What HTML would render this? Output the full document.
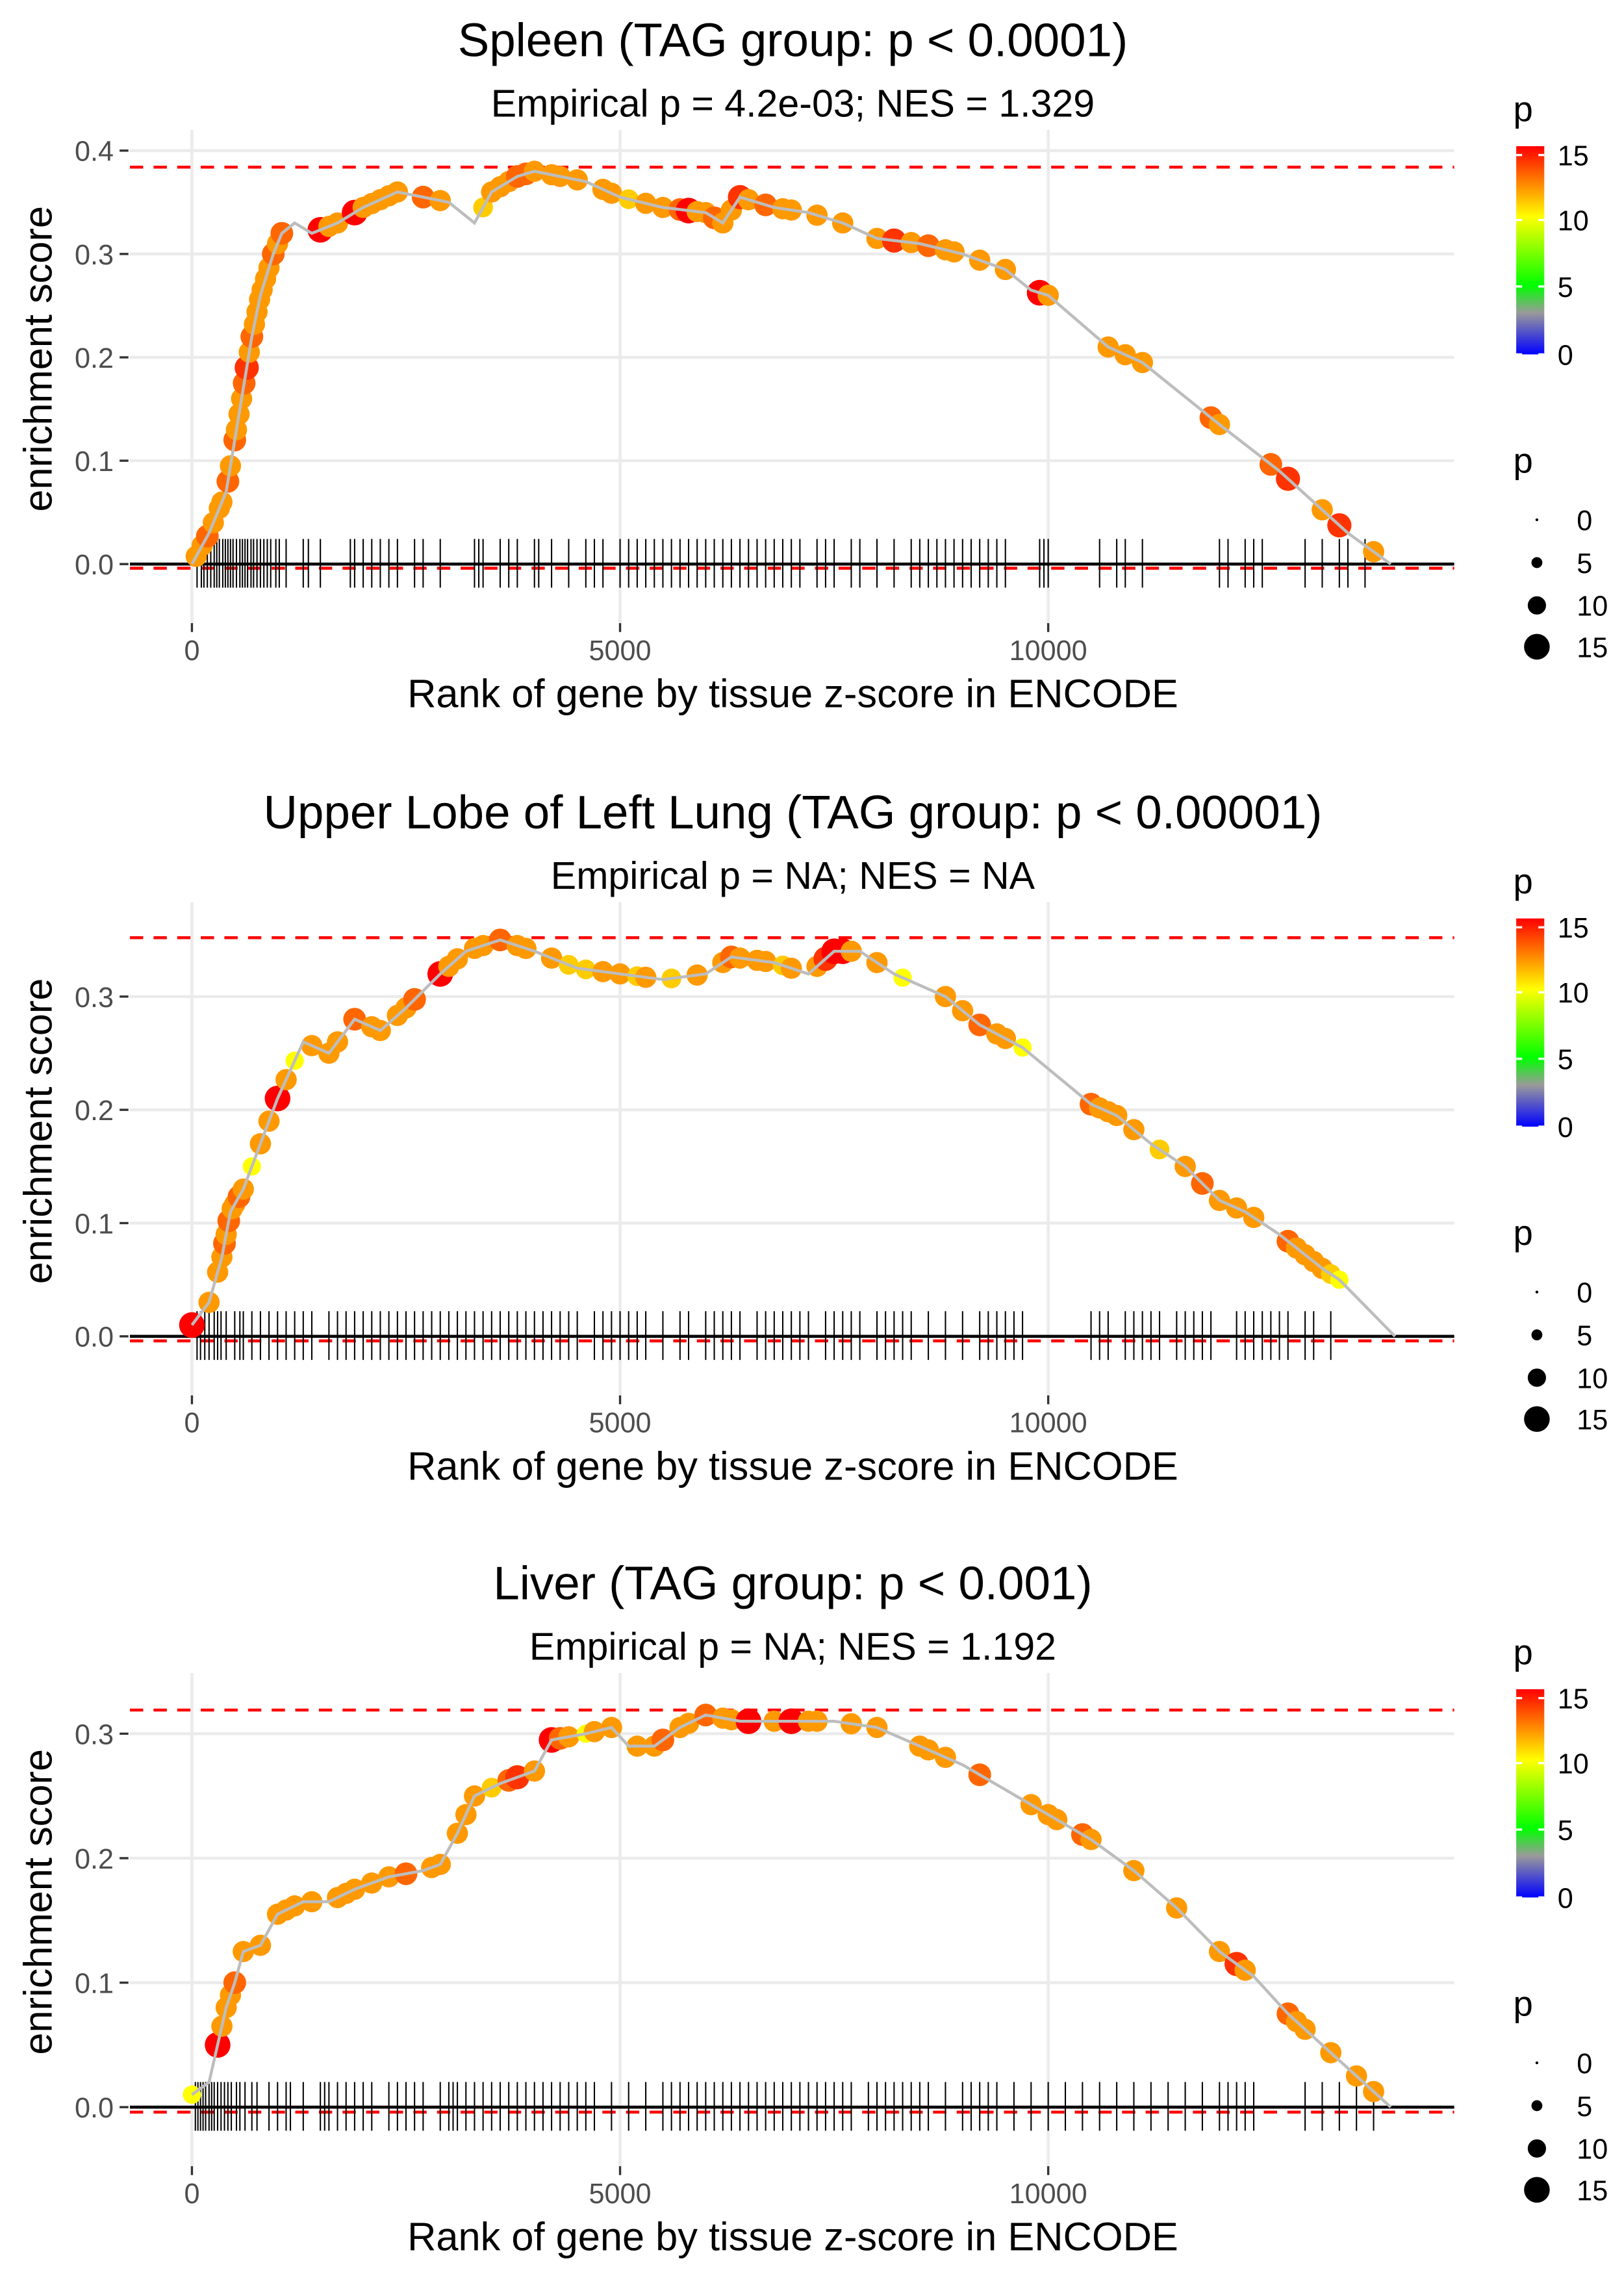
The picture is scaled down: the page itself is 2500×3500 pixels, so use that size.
<!DOCTYPE html>
<html><head><meta charset="utf-8"><style>
html,body{margin:0;padding:0;background:#fff}
svg{display:block}
text{font-family:"Liberation Sans",sans-serif}
</style></head><body>
<svg id="chart" width="2500" height="3500" viewBox="0 0 1100 1540" xmlns="http://www.w3.org/2000/svg">
<defs><linearGradient id="cbar" x1="0" y1="1" x2="0" y2="0">
<stop offset="0" stop-color="#0000ff"/><stop offset="0.2" stop-color="#9a9a9a"/><stop offset="0.33" stop-color="#00ff00"/><stop offset="0.66" stop-color="#ffff00"/><stop offset="1" stop-color="#ff0000"/></linearGradient></defs>
</svg>
<script>
// ---- data ----
const p1Title="Spleen (TAG group: p < 0.0001)", p1Sub="Empirical p = 4.2e-03; NES = 1.329";
const p1CurveRank=[0,200,400,500,600,700,800,950,1050,1200,1400,1700,2000,2400,2700,3000,3300,3500,3800,4000,4300,4600,5000,5500,6000,6200,6400,6800,7200,7600,8000,8500,9000,9500,9800,10000,10700,11100,12000,12700,13100,13500,14000];
const p1CurveES=[0,0.03,0.07,0.12,0.17,0.22,0.26,0.3,0.32,0.33,0.32,0.33,0.345,0.36,0.355,0.35,0.33,0.36,0.375,0.38,0.375,0.37,0.355,0.345,0.34,0.33,0.355,0.345,0.34,0.33,0.315,0.31,0.3,0.285,0.265,0.26,0.21,0.195,0.135,0.09,0.06,0.03,0];
const p1PtRank=[50,120,180,250,320,350,420,450,500,520,550,580,610,640,670,700,730,760,790,820,860,900,950,1000,1050,1500,1600,1700,1900,2000,2100,2200,2300,2400,2700,2900,3400,3500,3600,3700,3800,3900,4000,4200,4300,4500,4800,4900,5100,5300,5500,5700,5800,5900,6000,6100,6200,6300,6400,6500,6700,6900,7000,7300,7600,8000,8200,8400,8600,8800,8900,9200,9500,9900,10000,10700,10900,11100,11900,12000,12600,12800,13200,13400,13800];
const p1PtP=[12,12,13,12,12,12,13,12,13,12,12,12,13,14,12,13,12,12,12,12,12,12,13,12,13,15,12,12,15,12,12,12,12,12,13,12,11,12,12,12,13,13,12,12,12,12,12,12,11,12,12,13,15,12,12,13,12,12,14,12,13,12,12,12,12,12,14,12,13,12,12,12,12,15,12,12,12,12,13,12,13,14,12,14,12];
const p1Ticks=[60,110,140,180,220,260,290,320,360,390,420,450,480,520,560,590,620,650,690,720,760,800,840,880,920,980,1020,1100,1300,1360,1500,1850,1900,2000,2100,2200,2300,2400,2600,2700,2900,3300,3350,3400,3600,3700,3800,4000,4050,4200,4400,4600,4700,4800,5000,5100,5200,5300,5400,5500,5600,5700,5800,5900,6000,6100,6200,6300,6400,6500,6600,6700,6800,6900,7000,7100,7300,7400,7500,7700,7800,8000,8200,8400,8500,8600,8700,8800,8900,9000,9100,9200,9300,9400,9500,9900,9950,10000,10600,10800,10900,11100,12000,12100,12300,12400,12500,13000,13200,13400,13500,13700];
const p2Title="Upper Lobe of Left Lung (TAG group: p < 0.00001)", p2Sub="Empirical p = NA; NES = NA";
const p2CurveRank=[0,200,350,450,600,800,1000,1300,1600,1900,2200,2500,2900,3200,3600,4000,4500,5000,5500,6000,6300,6800,7200,7500,7800,8200,8800,9200,9700,10500,10800,11200,11600,12000,12300,12700,13200,13400,14050];
const p2CurveES=[0.01,0.03,0.07,0.11,0.13,0.17,0.21,0.26,0.25,0.28,0.27,0.29,0.32,0.34,0.35,0.34,0.325,0.32,0.315,0.32,0.335,0.33,0.32,0.34,0.34,0.32,0.3,0.275,0.255,0.205,0.195,0.17,0.15,0.12,0.11,0.09,0.06,0.05,0];
const p2PtRank=[0,200,300,350,380,400,430,470,500,550,600,700,800,900,1000,1100,1200,1400,1600,1700,1900,2100,2200,2400,2500,2600,2900,3000,3100,3300,3400,3600,3800,3900,4200,4400,4600,4800,5000,5200,5300,5600,5900,6200,6300,6400,6600,6700,6900,7000,7300,7400,7500,7600,7700,8000,8300,8800,9000,9200,9400,9500,9700,10500,10600,10700,10800,11000,11300,11600,11800,12000,12200,12400,12800,12900,13000,13100,13200,13300,13400];
const p2PtP=[15,12,12,12,13,12,13,12,12,13,12,10,12,12,15,12,10,12,12,12,13,12,12,12,12,13,15,12,12,12,12,13,12,12,12,11,11,12,12,11,12,11,12,12,13,12,12,12,11,12,12,14,15,15,12,12,10,12,12,13,12,12,10,13,12,12,12,12,11,12,13,12,12,12,13,12,12,12,12,11,10];
const p2Ticks=[60,100,150,200,260,300,340,400,500,560,600,700,800,900,1000,1100,1200,1300,1400,1600,1700,1800,1900,2000,2100,2200,2300,2400,2500,2600,2700,2800,2900,3000,3100,3200,3300,3400,3500,3600,3700,3800,3900,4000,4100,4200,4300,4400,4500,4700,4800,4900,5000,5100,5200,5300,5500,5700,5800,6000,6100,6200,6300,6400,6600,6700,6800,6900,7000,7100,7200,7400,7500,7600,7700,7800,8000,8100,8200,8300,8400,8600,8800,9000,9200,9300,9400,9500,9600,9700,10500,10600,10700,10900,11000,11100,11200,11300,11500,11600,11700,11800,11900,12200,12300,12400,12500,12600,12700,12800,13000,13100,13300];
const p3Title="Liver (TAG group: p < 0.001)", p3Sub="Empirical p = NA; NES = 1.192";
const p3CurveRank=[0,200,300,400,500,600,800,1000,1300,1600,1900,2300,2700,2900,3100,3300,3600,4000,4200,4600,4900,5100,5400,5700,6000,6400,7000,7500,8000,8500,9000,9500,10000,10500,11000,11500,12000,12400,12800,13200,13600,14000];
const p3CurveES=[0.01,0.02,0.05,0.08,0.1,0.125,0.13,0.155,0.165,0.165,0.175,0.185,0.19,0.195,0.22,0.25,0.26,0.27,0.295,0.3,0.305,0.29,0.29,0.305,0.315,0.31,0.31,0.31,0.305,0.29,0.275,0.255,0.235,0.215,0.19,0.16,0.125,0.105,0.075,0.05,0.025,0];
const p3PtRank=[0,300,350,400,450,500,600,800,1000,1100,1200,1400,1700,1800,1900,2100,2300,2500,2800,2900,3100,3200,3300,3500,3700,3800,4000,4200,4300,4400,4600,4700,4900,5200,5400,5500,5700,5800,6000,6200,6300,6500,6800,7000,7200,7300,7700,8000,8500,8600,8800,9200,9800,10000,10100,10400,10500,11000,11500,12000,12200,12300,12800,12900,13000,13300,13600,13800];
const p3PtP=[10,15,12,12,12,13,12,12,12,12,12,12,12,12,12,12,12,13,12,12,12,12,12,11,13,14,12,15,13,12,10,12,12,12,12,13,12,12,13,12,12,15,12,15,12,12,12,12,12,12,12,13,12,12,12,13,12,12,12,12,14,12,13,12,12,12,12,12];
const p3Ticks=[40,70,100,130,160,200,230,260,300,340,380,420,460,520,560,620,700,760,900,1000,1100,1150,1300,1500,1550,1600,1700,1800,1900,2000,2100,2300,2400,2500,2600,2700,2900,3000,3050,3100,3200,3300,3400,3500,3600,3700,3800,3900,4000,4100,4200,4300,4400,4500,4600,4700,4900,5100,5300,5500,5600,5700,5800,5900,6000,6100,6200,6300,6400,6500,6600,6700,6800,6900,7000,7100,7200,7300,7400,7500,7600,7700,7900,8000,8100,8200,8300,8400,8500,8600,8800,9000,9100,9200,9300,9400,9600,9800,10000,10200,10400,10600,10800,11000,11200,11400,11600,11800,12000,12100,12200,12300,12400,13000,13200,13400,13600,13800];
const maxLines=[0.384,0.352,0.319];
const minLines=[-0.004,-0.004,-0.004];
const yTicks1=[0,0.1,0.2,0.3,0.4], yTicks2=[0,0.1,0.2,0.3], yTicks3=[0,0.1,0.2,0.3];
const xTickVals=[0,5000,10000];

const NS="http://www.w3.org/2000/svg", svg=document.getElementById('chart');
function mk(tag,attrs,parent,txt){const e=document.createElementNS(NS,tag);for(const k in attrs)e.setAttribute(k,attrs[k]);if(txt!==undefined)e.textContent=txt;(parent||svg).appendChild(e);return e;}
function pcol(p){const stops=[[0,[0,0,255]],[3,[154,154,154]],[5,[0,255,0]],[10,[255,255,0]],[15,[255,0,0]]];
 for(let i=1;i<stops.length;i++){if(p<=stops[i][0]){const a=stops[i-1],b=stops[i],t=(p-a[0])/(b[0]-a[0]);return 'rgb('+a[1].map((v,j)=>Math.round(v+(b[1][j]-v)*t)).join(',')+')';}}return 'rgb(255,0,0)';}
function prad(p){return 1.2+p*0.5;}
function interp(rs,es,r){for(let i=1;i<rs.length;i++){if(r<=rs[i]){const t=(r-rs[i-1])/(rs[i]-rs[i-1]);return es[i-1]+(es[i]-es[i-1])*t;}}return es[es.length-1];}

function panel(idx,top,y0,pxPer001,ymaxVal,title,sub,cr,ce,pr,pp,ticks,yt){
 const g=mk('g',{});
 
 
 const X=r=>130+r*0.058, Y=v=>y0-v*pxPer001*100;
 const plotTop=top+88, plotBot=y0+40;
 const t=mk('text',{x:537,y:top+38,'font-size':32,'text-anchor':'middle',fill:'#000'},g,title);
 
 const s=mk('text',{x:537,y:top+79,'font-size':26,'text-anchor':'middle',fill:'#000'},g,sub);
 
 yt.forEach(v=>{const l=mk('line',{x1:88,x2:985,y1:Y(v),y2:Y(v),stroke:'#ebebeb','stroke-width':2},g);
  const tl=mk('text',{x:77,y:Y(v)+7,'font-size':19,'text-anchor':'end',fill:'#4d4d4d'},g,v.toFixed(1));
  mk('line',{x1:81,x2:87,y1:Y(v),y2:Y(v),stroke:'#333','stroke-width':1.5},g);});
 xTickVals.forEach(v=>{const l=mk('line',{x1:X(v),x2:X(v),y1:plotTop,y2:plotBot,stroke:'#ebebeb','stroke-width':2},g);
  mk('line',{x1:X(v),x2:X(v),y1:plotBot,y2:plotBot+6,stroke:'#333','stroke-width':1.5},g);
  const tl=mk('text',{x:X(v),y:plotBot+25,'font-size':19,'text-anchor':'middle',fill:'#4d4d4d'},g,String(v));});
 [maxLines[idx-1],minLines[idx-1]].forEach(v=>{const l=mk('line',{x1:88,x2:985,y1:Y(v),y2:Y(v),stroke:'#ff0000','stroke-width':2,'stroke-dasharray':'9,7'},g);});
 ticks.forEach(r=>{const l=mk('line',{x1:X(r),x2:X(r),y1:y0-17,y2:y0+16,stroke:'#000','stroke-width':0.9},g);});
 const zl=mk('line',{x1:88,x2:985,y1:y0,y2:y0,stroke:'#000','stroke-width':2},g);
 pr.forEach((r,i)=>{const c=mk('circle',{cx:X(r),cy:Y(interp(cr,ce,r)),r:prad(pp[i]),fill:pcol(pp[i])},g);});
 const pl=mk('polyline',{points:cr.map((r,i)=>X(r)+','+Y(ce[i])).join(' '),fill:'none',stroke:'#bdbdbd','stroke-width':2},g);
 
 const xl=mk('text',{x:537,y:plotBot+57,'font-size':27,'text-anchor':'middle',fill:'#000'},g,'Rank of gene by tissue z-score in ENCODE');
 
 const cy=(plotTop+y0)/2+8;
 const yl=mk('text',{x:35,y:cy,'font-size':27,'text-anchor':'middle',fill:'#000',transform:'rotate(-90 35 '+cy+')'},g,'enrichment score');
 
 const lt=top+76;
 const lp=mk('text',{x:1025,y:lt+6,'font-size':24,fill:'#000'},g,'p');
 const cb=mk('rect',{x:1027,y:lt+23,width:19,height:141,fill:'url(#cbar)'},g);
 [[15,lt+29],[10,lt+73],[5,lt+118],[0,lt+164]].forEach(([v,yy])=>{
  mk('line',{x1:1027,x2:1031,y1:yy,y2:yy,stroke:'#fff','stroke-width':1.5},g);mk('line',{x1:1042,x2:1046,y1:yy,y2:yy,stroke:'#fff','stroke-width':1.5},g);
  const tl=mk('text',{x:1055,y:yy+7,'font-size':19,fill:'#000'},g,String(v));});
 const sp=mk('text',{x:1025,y:lt+244,'font-size':24,fill:'#000'},g,'p');
 [[0,lt+276],[5,lt+305],[10,lt+334],[15,lt+362]].forEach(([v,yy])=>{
  const c=mk('circle',{cx:1041,cy:yy,r:prad(v)*(v==0?0.8:1),fill:'#000'},g);
  const tl=mk('text',{x:1068,y:yy+7,'font-size':19,fill:'#000'},g,String(v));});
}
panel(1,0,382,7.0,0.4,p1Title,p1Sub,p1CurveRank,p1CurveES,p1PtRank,p1PtP,p1Ticks,yTicks1);
panel(2,523,905,7.67,0.35,p2Title,p2Sub,p2CurveRank,p2CurveES,p2PtRank,p2PtP,p2Ticks,yTicks2);
panel(3,1045,1427,8.43,0.32,p3Title,p3Sub,p3CurveRank,p3CurveES,p3PtRank,p3PtP,p3Ticks,yTicks3);
</script>
</body></html>
